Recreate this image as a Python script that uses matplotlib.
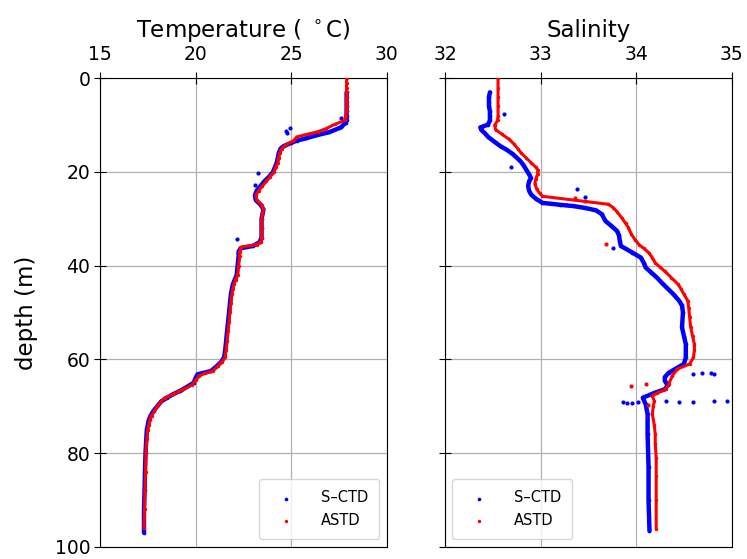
import matplotlib
matplotlib.use("Agg")
import matplotlib.pyplot as plt

# ---------------- Temperature profiles ----------------
t_astd_depth = [0, 1, 2, 3, 4, 5, 6, 7, 8, 9, 9.8, 10.8, 11.4, 11.9, 12.5, 13.4, 14, 15, 16, 17, 18, 19, 20, 21, 22, 23, 24, 25, 26, 27, 28, 29, 30, 32, 34, 35, 35.5, 36, 37, 38, 40, 42, 43, 44, 45, 46, 48, 50, 52, 54, 56, 58, 59.5, 60.5, 61.5, 62.5, 63, 63.5, 64.5, 65.5, 66.5, 67.5, 68.2, 69, 70, 71, 72, 73, 74, 75, 77, 80, 84, 88, 92, 96]
t_astd_temp = [27.9, 27.9, 27.9, 27.9, 27.9, 27.9, 27.9, 27.9, 27.85, 27.8, 27.3, 26.8, 26.4, 25.9, 25.3, 25.1, 24.8, 24.5, 24.4, 24.35, 24.3, 24.2, 24.1, 23.9, 23.7, 23.5, 23.3, 23.15, 23.2, 23.45, 23.55, 23.5, 23.45, 23.45, 23.45, 23.4, 23.2, 22.4, 22.3, 22.3, 22.25, 22.2, 22.1, 22.0, 21.95, 21.9, 21.85, 21.8, 21.75, 21.7, 21.65, 21.6, 21.55, 21.4, 21.15, 20.9, 20.5, 20.2, 20.0, 19.8, 19.3, 18.8, 18.4, 18.2, 18.0, 17.85, 17.7, 17.6, 17.55, 17.5, 17.45, 17.4, 17.38, 17.35, 17.33, 17.3]

t_sctd_depth = [3, 4, 5, 6, 7, 8, 9, 9.5, 10.5, 11.5, 12.2, 12.8, 13.3, 13.8, 14.5, 15, 16, 17, 18, 19, 20, 21, 22, 23, 24, 25, 26, 27, 28, 29, 30, 32, 34, 35, 35.8, 36.3, 37, 38, 40, 42, 43, 44, 45, 46, 48, 50, 52, 54, 56, 58, 59.5, 60.5, 61.5, 62.5, 63.2, 64, 65, 66, 66.7, 67.5, 68.2, 69, 70, 71, 72, 73, 74, 75, 77, 80, 84, 88, 92, 97]
t_sctd_temp = [27.9, 27.9, 27.9, 27.9, 27.9, 27.9, 27.9, 27.85, 27.6, 27.0, 26.3, 25.8, 25.3, 25.0, 24.6, 24.45, 24.35, 24.3, 24.25, 24.15, 24.05, 23.85, 23.6, 23.4, 23.2, 23.1, 23.15, 23.4, 23.55, 23.5, 23.45, 23.45, 23.45, 23.35, 23.0, 22.35, 22.25, 22.25, 22.2, 22.15, 22.05, 21.95, 21.9, 21.85, 21.8, 21.75, 21.7, 21.65, 21.6, 21.55, 21.5, 21.35, 21.1, 20.8, 20.1, 20.0, 19.9, 19.5, 19.2, 18.8, 18.5, 18.2, 18.0, 17.8, 17.65, 17.55, 17.5, 17.45, 17.42, 17.38, 17.35, 17.33, 17.3, 17.3]

t_sctd_out_depth = [8.5, 10.6, 11.2, 11.6, 20.2, 22.7, 34.4]
t_sctd_out_temp = [27.6, 24.96, 24.75, 24.8, 23.25, 23.1, 22.17]

# ---------------- Salinity profiles ----------------
s_astd_depth = [0, 2, 4, 6, 8, 9, 10, 11, 12, 13, 14, 15, 16, 17, 18, 19, 19.5, 20.5, 21.5, 22.5, 23.7, 24.5, 25.2, 26.9, 27.6, 28.5, 29.8, 31, 31.9, 33.3, 34.5, 35.5, 36.3, 37.2, 38.3, 39.4, 40.3, 41.2, 42.6, 44, 45, 46.1, 47.5, 49, 51, 53, 55, 56.8, 58, 59.6, 61, 62.1, 63.5, 65.3, 66.4, 67.2, 67.8, 68.9, 70, 71.7, 74, 76, 78, 81, 85, 90, 96.2]
s_astd_sal = [32.555, 32.555, 32.555, 32.555, 32.555, 32.55, 32.52, 32.53, 32.6, 32.67, 32.72, 32.76, 32.8, 32.85, 32.9, 32.95, 32.97, 32.97, 32.95, 32.94, 32.96, 32.99, 33.02, 33.71, 33.76, 33.8, 33.85, 33.89, 33.92, 33.95, 33.99, 34.03, 34.08, 34.13, 34.17, 34.2, 34.25, 34.3, 34.37, 34.44, 34.47, 34.5, 34.54, 34.55, 34.56, 34.57, 34.59, 34.61, 34.61, 34.6, 34.56, 34.43, 34.38, 34.34, 34.31, 34.22, 34.17, 34.19, 34.18, 34.17, 34.19, 34.2, 34.2, 34.21, 34.21, 34.21, 34.21]

s_sctd_depth = [3, 4, 5, 6, 7, 8, 9, 9.9, 10.5, 11, 11.8, 12.5, 13.6, 14.5, 15.2, 16.2, 17.7, 18.5, 19.5, 20.5, 21.3, 22, 23, 24, 24.8, 25.7, 26.6, 27, 27.3, 27.7, 28.2, 29, 30.5, 31.5, 32.6, 33.5, 34.8, 35.8, 36.5, 37.2, 38.3, 39.4, 40.4, 41.5, 42.6, 43.7, 44.7, 46.1, 47.5, 48.5, 50, 53.2, 55, 56.8, 59.6, 61, 61.8, 62.9, 63.8, 64.6, 65.5, 66.4, 67.1, 68.2, 69.6, 71.7, 76, 83, 90, 96.6]
s_sctd_sal = [32.47, 32.46, 32.46, 32.46, 32.47, 32.47, 32.47, 32.45, 32.37, 32.38, 32.42, 32.45, 32.52, 32.58, 32.64, 32.71, 32.79, 32.82, 32.85, 32.88, 32.9, 32.88, 32.87, 32.88, 32.9, 32.95, 33.02, 33.2, 33.35, 33.47, 33.58, 33.64, 33.68, 33.74, 33.8, 33.82, 33.83, 33.84, 33.9, 33.96, 34.05, 34.08, 34.1, 34.16, 34.22, 34.27, 34.32, 34.39, 34.45, 34.48, 34.49, 34.48, 34.5, 34.52, 34.52, 34.5, 34.43, 34.34, 34.3, 34.3, 34.33, 34.3, 34.2, 34.07, 34.1, 34.12, 34.12, 34.13, 34.13, 34.14]

s_sctd_out_depth = [7.7, 19.0, 23.7, 25.3, 36.2, 63.2, 63.0, 63.0, 63.2, 69.2, 69.4, 69.3, 69.2, 69.0, 69.2, 69.1, 69.0, 68.9]
s_sctd_out_sal = [32.62, 32.69, 33.38, 33.47, 33.76, 34.59, 34.69, 34.78, 34.82, 33.86, 33.9, 33.96, 34.02, 34.31, 34.45, 34.59, 34.81, 34.95]

s_astd_out_depth = [25.5, 26.3, 35.4, 65.8, 65.3, 69.7]
s_astd_out_sal = [33.36, 33.46, 33.69, 33.95, 34.1, 34.12]

temp_ticks = [15, 20, 25, 30]
sal_ticks = [32, 33, 34, 35]
depth_ticks = [0, 20, 40, 60, 80, 100]

fig = plt.figure(figsize=(7.47, 5.59), dpi=100)
ax1 = fig.add_axes([0.1339, 0.022, 0.3838, 0.838])
ax2 = fig.add_axes([0.5957, 0.022, 0.3838, 0.838])

def style(ax, ticks, lim, title):
    ax.set_xlim(*lim)
    ax.set_ylim(100, 0)
    ax.set_xticks(ticks)
    ax.set_yticks(depth_ticks)
    ax.xaxis.tick_top()
    ax.xaxis.set_label_position('top')
    ax.tick_params(axis='both', labelsize=13.5, direction='inout', length=8)
    ax.tick_params(axis='x', pad=6)
    ax.tick_params(axis='y', pad=3)
    ax.grid(True, color='#b0b0b0', lw=0.9)
    ax.set_axisbelow(True)
    ax.set_title(title, fontsize=16.5, pad=30)

# Temperature
ax1.plot(t_sctd_temp, t_sctd_depth, color='blue', lw=3.2, solid_capstyle='round', zorder=2)
ax1.scatter(t_sctd_temp, t_sctd_depth, s=7, color='blue', lw=0, label='S–CTD', zorder=2)
ax1.scatter(t_sctd_out_temp, t_sctd_out_depth, s=9, color='blue', lw=0, zorder=2)
ax1.plot(t_astd_temp, t_astd_depth, color='red', lw=2.2, solid_capstyle='round', zorder=3)
ax1.scatter(t_astd_temp, t_astd_depth, s=6, color='red', lw=0, label='ASTD', zorder=3)
style(ax1, temp_ticks, (15, 30), 'Temperature ( $^\\circ$C)')
ax1.set_ylabel('depth (m)', fontsize=16.5, labelpad=12)
ax1.legend(loc='lower right', fontsize=10.5, scatterpoints=1, markerscale=1.0,
           handletextpad=1.4, borderpad=0.8)

# Salinity
ax2.plot(s_sctd_sal, s_sctd_depth, color='blue', lw=3.2, solid_capstyle='round', zorder=2)
ax2.scatter(s_sctd_sal, s_sctd_depth, s=7, color='blue', lw=0, label='S–CTD', zorder=2)
ax2.scatter(s_sctd_out_sal, s_sctd_out_depth, s=9, color='blue', lw=0, zorder=2)
ax2.plot(s_astd_sal, s_astd_depth, color='red', lw=2.2, solid_capstyle='round', zorder=3)
ax2.scatter(s_astd_sal, s_astd_depth, s=6, color='red', lw=0, label='ASTD', zorder=3)
ax2.scatter(s_astd_out_sal, s_astd_out_depth, s=9, color='red', lw=0, zorder=3)
style(ax2, sal_ticks, (32, 35), 'Salinity')
ax2.tick_params(axis='y', labelleft=False)
ax2.legend(loc='lower left', fontsize=10.5, scatterpoints=1, markerscale=1.0,
           handletextpad=1.4, borderpad=0.8)

fig.savefig('out.png', dpi=100)
